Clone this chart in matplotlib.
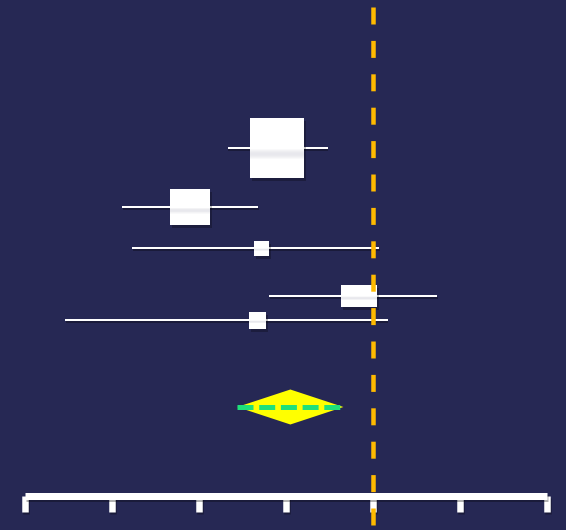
import matplotlib
matplotlib.use("Agg")
import matplotlib.pyplot as plt
import matplotlib.patheffects as pe
from matplotlib.patches import Rectangle, Polygon
import numpy as np

# ---- data (x in effect units, y row positions in layout units) ----
estimates = [2.90, 1.90, 2.72, 3.84, 2.67]
ci_low = [2.33, 1.12, 1.23, 2.81, 0.46]
ci_high = [3.48, 2.68, 4.07, 4.74, 4.17]
box_w = [0.62, 0.46, 0.17, 0.41, 0.20]
box_h = [60, 36, 15, 22, 17]
rows = [148, 207, 248, 296, 320]

pooled_est = 3.05
pooled_low = 2.44
pooled_high = 3.66
pooled_row = 407
pooled_half_h = 17.5

ref_value = 4.0
tick_values = [0, 1, 2, 3, 4, 5, 6]
axis_row = 495.7

bg = "#262854"
plt.rcParams["lines.scale_dashes"] = False
PX = 72 / 100  # points per pixel

fig = plt.figure(figsize=(5.66, 5.30), dpi=100)
fig.patch.set_facecolor(bg)
ax = fig.add_axes([0, 0, 1, 1])
ax.set_facecolor(bg)
ax.set_xlim(-25 / 87, 541 / 87)
ax.set_ylim(530, 0)
ax.axis("off")

shadow = [pe.SimpleLineShadow(offset=(0.5, -1.5), shadow_color="black", alpha=0.3), pe.Normal()]
pshadow = [pe.SimplePatchShadow(offset=(1.5, -2.5), shadow_rgbFace="black", alpha=0.25), pe.Normal()]

# whiskers
for y, lo, hi in zip(rows, ci_low, ci_high):
    ax.plot([lo, hi], [y, y], color="white", lw=2 * PX, zorder=2, path_effects=shadow,
            solid_capstyle="butt")

# boxes
for y, x, w, h in zip(rows, estimates, box_w, box_h):
    ax.add_patch(Rectangle((x - w / 2, y - h / 2), w, h, facecolor="white", edgecolor="none",
                           zorder=3, path_effects=pshadow))
    # soft shaded band across the middle
    n = 12
    for i in range(n):
        frac = i / (n - 1)
        shade = 0.09 * np.sin(np.pi * frac)
        ax.add_patch(Rectangle((x - w / 2, y + h * (0.0 + 0.2 * i / n)), w, h * 0.2 / n,
                               facecolor=(1 - shade, 1 - shade, 1 - shade * 0.8),
                               edgecolor="none", zorder=3.1))

# pooled diamond
ax.add_patch(Polygon([(pooled_low, pooled_row), (pooled_est, pooled_row - pooled_half_h),
                      (pooled_high, pooled_row), (pooled_est, pooled_row + pooled_half_h)],
                     closed=True, facecolor="#FFFF00", edgecolor="none", zorder=3))
ax.plot([pooled_low, pooled_high], [pooled_row, pooled_row], color="#1EE07A", lw=5 * PX,
        dashes=(16 * PX, 5.7 * PX), dash_capstyle="butt", zorder=3.2)

# axis ticks and line
for t in tick_values:
    ax.plot([t, t], [axis_row, axis_row + 16], color="white", lw=6.5 * PX,
            solid_capstyle="butt", zorder=4, path_effects=shadow)
ax.plot([tick_values[0], tick_values[-1]], [axis_row, axis_row], color="white", lw=7 * PX,
        solid_capstyle="butt", zorder=4.1, path_effects=shadow)

# reference line (on top)
ax.plot([ref_value, ref_value], [7, 540], color="#FFBA00", lw=4.5 * PX,
        dashes=(17 * PX, 16.4 * PX), dash_capstyle="butt", zorder=5)

fig.savefig("out.png", dpi=100, facecolor=bg)
